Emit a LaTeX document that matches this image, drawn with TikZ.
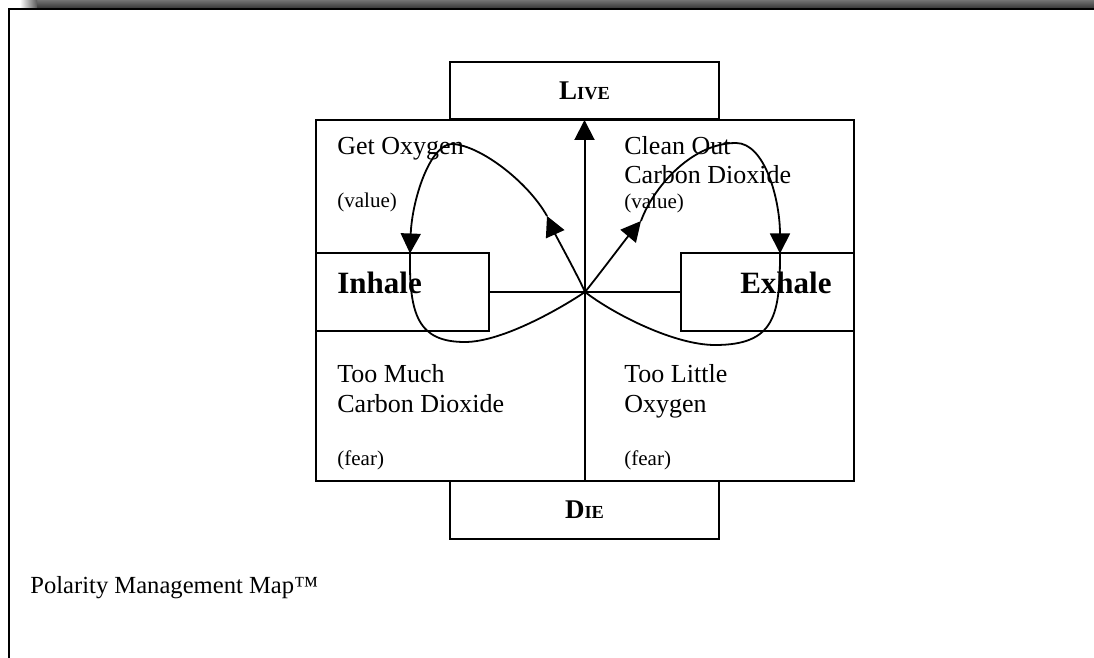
\documentclass[tikz,border=0pt]{standalone}
\usepackage{fontspec}
\setmainfont{Liberation Serif}
\usetikzlibrary{positioning, arrows.meta}

\tikzset{
  frame/.style={line width=1.3pt, black},
  pole/.style={draw, line width=1pt, fill=white, minimum width=134.5pt, inner sep=0pt},
  half/.style={draw, line width=1pt, fill=white, minimum width=86.5pt, minimum height=38.5pt, inner sep=0pt},
  txt/.style={inner sep=0pt, anchor=base west, font=\fontsize{13}{15}\selectfont},
  note/.style={inner sep=0pt, anchor=base west, font=\fontsize{10.5}{12}\selectfont},
  big/.style={inner sep=0pt, font=\bfseries\fontsize{15.5}{18}\selectfont},
  flow/.style={line width=0.9pt, -{Triangle[length=10pt, width=10pt]}},
  loopline/.style={line width=0.9pt}
}
\newcommand{\poleword}[2]{\bfseries\fontsize{13.5}{15}\selectfont #1\fontsize{9.2}{10}\selectfont #2}

\begin{document}
\begin{tikzpicture}[x=0.5pt, y=-0.5pt]
  \useasboundingbox (0,0) rectangle (1094,658);
  % window edge
  \shade[top color=black!55, bottom color=black!78] (37,0) rectangle (1094,8);
  \shade[left color=white, right color=black!65] (20,0) rectangle (37,8);
  \draw[frame] (9,658) -- (9,9) -- (1094,9);

  % poles and quadrants
  \node[pole, minimum height=28.5pt] (live) at (584.5,90.5) {\poleword{L}{IVE}};
  \node[draw, line width=1pt, minimum width=269pt, minimum height=180.5pt] (grid) at (585,300.5) {};
  \node[pole, minimum height=29pt] (die) at (584.5,510) {\poleword{D}{IE}};
  \node[half] (inhale) at (402.5,292) {};
  \node[half] (exhale) at (767.5,292) {};
  \draw[line width=1pt] (inhale.east) -- (exhale.west);
  \draw[flow, line width=1pt] (die.north) -- (live.south);

  \node[big, anchor=base west] (inhtxt) at (337,293) {Inhale};
  \node[big, anchor=base east] (exhtxt) at (832,293) {Exhale};

  \node[txt] (getox) at (337,155) {Get Oxygen};
  \node[note] (valL) at (337,208) {(value)};
  \node[txt] (clean) at (624,155) {Clean Out};
  \node[txt] (carbonR) at (624,184) {Carbon Dioxide};
  \node[note] (valR) at (624,209) {(value)};
  \node[txt] (much) at (337,382) {Too Much};
  \node[txt] (carbonL) at (337,412) {Carbon Dioxide};
  \node[note] (fearL) at (337,466) {(fear)};
  \node[txt] (little) at (624,382) {Too Little};
  \node[txt] (oxy) at (624,412) {Oxygen};
  \node[note] (fearR) at (624,466) {(fear)};

  \node[txt, font=\fontsize{12.3}{14}\selectfont] (title) at (30,593) {Polarity Management Map™};

  % breathing loop
  \coordinate (hub) at (585,292);
  \coordinate (tipL) at (547,216);
  \coordinate (topL) at (452,144);
  \coordinate (inL) at (410,253.5);
  \coordinate (botL) at (465,342);
  \coordinate (tipR) at (641,221);
  \coordinate (topR) at (736,143);
  \coordinate (exR) at (780,253.5);
  \coordinate (botR) at (715,345);

  \draw[flow] (hub) .. controls (578,276) and (556,236) .. (tipL);
  \draw[flow] (tipL) .. controls (528,182) and (480,145) .. (topL) .. controls (430,144) and (412,200) .. (inL);
  \draw[loopline] (inL) .. controls (409,315) and (418,342) .. (botL) .. controls (500,342) and (555,312) .. (hub);
  \draw[flow] (hub) .. controls (598,276) and (625,240) .. (tipR);
  \draw[flow] (tipR) .. controls (652,190) and (690,143) .. (topR) .. controls (765,143) and (780,200) .. (exR);
  \draw[loopline] (exR) .. controls (780,315) and (775,345) .. (botR) .. controls (675,345) and (615,315) .. (hub);
\end{tikzpicture}
\end{document}
